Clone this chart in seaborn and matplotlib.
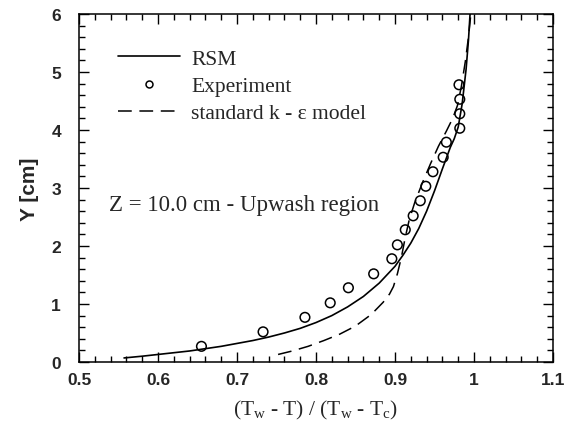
import matplotlib
matplotlib.use("Agg")
import matplotlib.pyplot as plt
import seaborn as sns
import pandas as pd
from matplotlib.lines import Line2D
from matplotlib.ticker import MultipleLocator

# RSM prediction (solid line)
rsm_x = [0.557, 0.580, 0.600, 0.620, 0.640, 0.660, 0.680, 0.700, 0.720, 0.740,
         0.760, 0.780, 0.800, 0.820, 0.840, 0.860, 0.880, 0.900, 0.910, 0.920,
         0.930, 0.940, 0.950, 0.960, 0.970, 0.975, 0.980, 0.985, 0.990, 0.993,
         0.995]
rsm_y = [0.07, 0.10, 0.13, 0.16, 0.19, 0.23, 0.27, 0.32, 0.37, 0.43,
         0.50, 0.58, 0.68, 0.80, 0.95, 1.13, 1.36, 1.65, 1.84, 2.05,
         2.30, 2.60, 2.95, 3.33, 3.70, 3.85, 4.05, 4.45, 5.05, 5.55,
         6.00]

# Experimental data (open circles)
exp_x = [0.655, 0.733, 0.786, 0.818, 0.841, 0.873, 0.896, 0.903, 0.913, 0.923,
         0.932, 0.939, 0.948, 0.961, 0.965, 0.982, 0.982, 0.982, 0.981]
exp_y = [0.27, 0.52, 0.77, 1.02, 1.28, 1.52, 1.78, 2.02, 2.28, 2.52,
         2.78, 3.03, 3.28, 3.53, 3.79, 4.03, 4.28, 4.53, 4.78]

# standard k-epsilon model (dashed line)
ke_x = [0.752, 0.770, 0.790, 0.810, 0.830, 0.850, 0.870, 0.885, 0.893, 0.898,
        0.903, 0.908, 0.913, 0.918, 0.925, 0.935, 0.945, 0.955, 0.965, 0.973,
        0.979, 0.984, 0.989, 0.993, 0.996]
ke_y = [0.13, 0.19, 0.27, 0.37, 0.48, 0.62, 0.82, 1.03, 1.17, 1.30,
        1.52, 1.80, 2.15, 2.45, 2.75, 3.10, 3.42, 3.72, 3.98, 4.20,
        4.42, 4.75, 5.18, 5.60, 6.00]

legend_labels = ["RSM", "Experiment", "standard k - \u03b5 model"]
annotation = "Z = 10.0 cm - Upwash region"
x_ticks = [0.5, 0.6, 0.7, 0.8, 0.9, 1.0, 1.1]
x_tick_labels = ["0.5", "0.6", "0.7", "0.8", "0.9", "1", "1.1"]
y_ticks = [0, 1, 2, 3, 4, 5, 6]

sns.set_style("ticks", {"xtick.direction": "in", "ytick.direction": "in"})
plt.rcParams["font.family"] = ["Liberation Serif", "DejaVu Serif"]
plt.rcParams["mathtext.fontset"] = "custom"
plt.rcParams["mathtext.rm"] = "Liberation Serif"
plt.rcParams["mathtext.it"] = "Liberation Serif:italic"

rsm = pd.DataFrame({"x": rsm_x, "y": rsm_y})
exp = pd.DataFrame({"x": exp_x, "y": exp_y})
ke = pd.DataFrame({"x": ke_x, "y": ke_y})

fig = plt.figure(figsize=(5.69, 4.27), dpi=100)
ax = fig.add_axes([79 / 569, 1 - 363 / 427, 474 / 569, 348 / 427])

sns.lineplot(data=rsm, x="x", y="y", sort=False, estimator=None, color="black",
             linewidth=1.2, ax=ax)
sns.lineplot(data=ke, x="x", y="y", sort=False, estimator=None, color="black",
             linewidth=1.1, linestyle=(0, (9, 5)), ax=ax)
sns.scatterplot(data=exp, x="x", y="y", marker="o", s=48, facecolor="none",
                edgecolor="black", linewidth=1.1, ax=ax, zorder=3)

ax.set_xlim(0.5, 1.1)
ax.set_ylim(0, 6)
ax.set_xticks(x_ticks)
ax.set_xticklabels(x_tick_labels)
ax.set_yticks(y_ticks)
ax.xaxis.set_minor_locator(MultipleLocator(0.02))
ax.yaxis.set_minor_locator(MultipleLocator(0.2))
ax.tick_params(which="both", direction="in", top=True, right=True, color="black")
ax.tick_params(which="major", length=7, width=1.0)
ax.tick_params(which="minor", length=4, width=1.0)
ax.tick_params(axis="x", pad=7)
ax.tick_params(axis="y", pad=13)
for lab in ax.get_xticklabels() + ax.get_yticklabels():
    lab.set_fontfamily("Liberation Sans")
    lab.set_fontweight("bold")
    lab.set_fontsize(12.5)
for sp in ax.spines.values():
    sp.set_linewidth(1.1)
    sp.set_color("black")

ax.set_xlabel(r"(T$_\mathrm{w}$ - T) / (T$_\mathrm{w}$ - T$_\mathrm{c}$)",
              fontsize=15.5, labelpad=8)
ax.set_ylabel("Y [cm]", fontsize=15, fontfamily="Liberation Sans",
              fontweight="bold", labelpad=9)

ax.text(0.538, 2.72, annotation, fontsize=16.5, va="center", ha="left")

handles = [
    Line2D([], [], color="black", linewidth=1.2),
    Line2D([], [], color="black", linestyle="none", marker="o", markersize=5,
           markerfacecolor="none", markeredgewidth=1.1),
    Line2D([], [], color="black", linewidth=1.1, linestyle=(0, (9, 5))),
]
ax.legend(handles, legend_labels, loc="upper left",
          bbox_to_anchor=(0.082, 0.90), frameon=False, fontsize=15.5,
          handlelength=2.9, handletextpad=0.5, labelspacing=0.33,
          borderpad=0, borderaxespad=0)

fig.savefig("out.png", dpi=100)
